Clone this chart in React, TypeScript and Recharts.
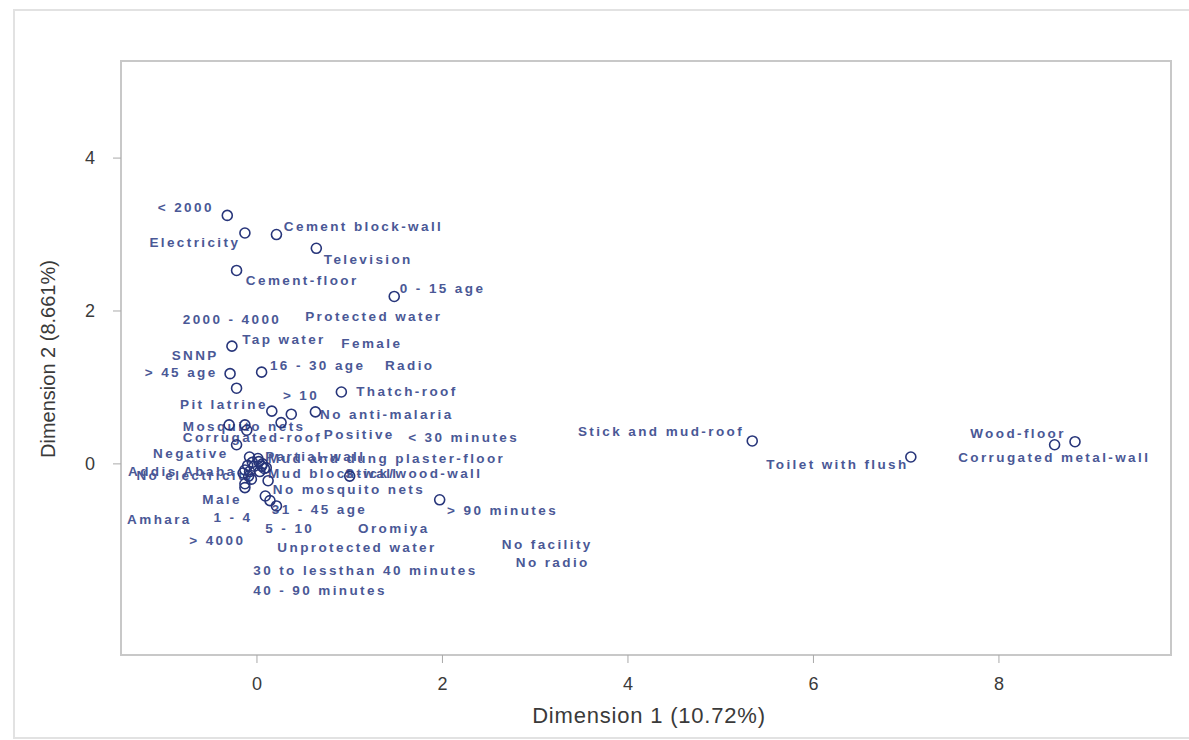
import { ReferenceArea, Scatter, ScatterChart, XAxis, YAxis } from 'recharts';

// category names (one point + one label each)
const categories = [
  '< 2000', 'Electricity', 'Cement block-wall', 'Television', 'Cement-floor', '0 - 15 age',
  '2000 - 4000', 'Protected water', 'Tap water', 'Female', 'SNNP', '> 45 age', '16 - 30 age',
  'Radio', '> 10', 'Thatch-roof', 'Pit latrine', 'No anti-malaria', 'Mosquito nets',
  'Corrugated-roof', 'Positive', '< 30 minutes', 'Stick and mud-roof', 'Wood-floor',
  'Corrugated metal-wall', 'Toilet with flush', 'Negative', 'Partial-wall',
  'Mud and dung plaster-floor', 'Mud block-wall', 'Stick/wood-wall', 'Addis Ababa',
  'No electricity', 'No mosquito nets', '> 90 minutes', 'Male', '31 - 45 age', 'Amhara',
  '1 - 4', '5 - 10', 'Oromiya', '> 4000', 'Unprotected water', 'No facility', 'No radio',
  '30 to lessthan 40 minutes', '40 - 90 minutes',
];

// category coordinates
const dim1 = [
  -0.32, -0.13, 0.21, 0.64, -0.22, 1.48,
  -0.22, 0.37, -0.27, 0.16, -0.3, -0.29, 0.05,
  0.26, -0.13, 0.91, -0.11, 0.63, -0.22,
  -0.08, 0.01, 0.05, 5.34, 8.6,
  8.82, 7.05, -0.03, -0.13,
  -0.09, 0.12, 1.0, -0.13,
  -0.13, 0.09, 1.97, 0.14, 0.21, -0.1,
  -0.05, 0.03, 0.02, -0.15, 0.08, 0.06, 0.1,
  -0.06, -0.08,
];
const dim2 = [
  3.25, 3.02, 3.0, 2.82, 2.53, 2.19,
  0.99, 0.65, 1.54, 0.69, 0.51, 1.18, 1.2,
  0.54, 0.51, 0.94, 0.44, 0.68, 0.25,
  0.09, 0.07, -0.03, 0.3, 0.25,
  0.29, 0.09, -0.03, -0.08,
  -0.16, -0.22, -0.16, -0.26,
  -0.31, -0.42, -0.47, -0.48, -0.55, -0.02,
  0.02, -0.1, 0.03, -0.12, -0.06, 0.0, -0.05,
  -0.2, -0.1,
];

// where each label text starts, in axis units
const labelDim1 = [
  -1.07, -1.16, 0.29, 0.72, -0.12, 1.54,
  -0.8, 0.52, -0.16, 0.91, -0.92, -1.21, 0.14,
  1.38, 0.28, 1.07, -0.83, 0.68, -0.8,
  -0.8, 0.72, 1.63, 3.46, 7.69,
  7.56, 5.49, -1.12, 0.09,
  0.12, 0.12, 0.95, -1.39,
  -1.3, 0.17, 2.05, -0.59, 0.16, -1.4,
  -0.47, 0.09, 1.09, -0.73, 0.22, 2.64, 2.79,
  -0.04, -0.04,
];
const labelDim2 = [
  3.36, 2.9, 3.11, 2.68, 2.4, 2.3,
  1.89, 1.93, 1.63, 1.58, 1.42, 1.19, 1.29,
  1.29, 0.9, 0.95, 0.78, 0.65, 0.49,
  0.34, 0.38, 0.35, 0.42, 0.4,
  0.09, -0.01, 0.14, 0.1,
  0.07, -0.13, -0.13, -0.1,
  -0.15, -0.34, -0.61, -0.47, -0.6, -0.73,
  -0.7, -0.84, -0.84, -1.0, -1.1, -1.06, -1.29,
  -1.4, -1.66,
];

const xTicks = [0, 2, 4, 6, 8];
const yTicks = [0, 2, 4];
const X_MIN = -1.466;
const X_MAX = 9.855;
const Y_MIN = -2.5;
const Y_MAX = 5.27;

const points = categories.map((name, i) => ({ name, x: dim1[i], y: dim2[i] }));
const labels = categories.map((name, i) => ({ name, x: labelDim1[i], y: labelDim2[i] }));

const FONT = '"Liberation Sans", Arial, sans-serif';

const Ring = (props: any) => (
  <circle cx={props.cx} cy={props.cy} r={5} fill="none" stroke="#27357a" strokeWidth={1.6} />
);

const LabelText = (props: any) => (
  <text
    x={props.cx}
    y={props.cy}
    dominantBaseline="central"
    fontFamily={FONT}
    fontSize={13.5}
    fontWeight="bold"
    letterSpacing={2.4}
    fill="#4a5896"
  >
    {props.payload.name}
  </text>
);

export default function App() {
  return (
    <div style={{ position: 'absolute', left: 0, top: 0, width: 1189, height: 740, background: '#fff' }}>
      <div
        style={{
          position: 'absolute',
          left: 13,
          top: 9,
          width: 1180,
          height: 726,
          border: '2px solid #e2e2e2',
        }}
      />
      <div style={{ position: 'absolute', left: 0, top: 0 }}>
        <ScatterChart width={1189} height={740} margin={{ top: 61, right: 18, bottom: 0, left: 61 }}>
          <XAxis
            type="number"
            dataKey="x"
            domain={[X_MIN, X_MAX]}
            ticks={xTicks}
            allowDataOverflow
            axisLine={false}
            tickSize={8}
            tickMargin={14}
            tickLine={{ stroke: '#aaa' }}
            tick={{ fontSize: 18, fill: '#3a3a3a', fontFamily: FONT }}
            height={85}
            label={() => (
              <text
                x={649}
                y={723}
                textAnchor="middle"
                fontFamily={FONT}
                fontSize={22}
                letterSpacing={0.8}
                fill="#3a3a3a"
              >
                Dimension 1 (10.72%)
              </text>
            )}
          />
          <YAxis
            type="number"
            dataKey="y"
            domain={[Y_MIN, Y_MAX]}
            ticks={yTicks}
            allowDataOverflow
            axisLine={false}
            tickSize={8}
            tickMargin={18}
            tickLine={{ stroke: '#aaa' }}
            tick={{ fontSize: 18, fill: '#3a3a3a', fontFamily: FONT }}
            width={60}
            label={() => (
              <text
                x={48}
                y={359}
                transform="rotate(-90, 48, 359)"
                textAnchor="middle"
                dominantBaseline="central"
                fontFamily={FONT}
                fontSize={20}
                fill="#3a3a3a"
              >
                Dimension 2 (8.661%)
              </text>
            )}
          />
          <ReferenceArea
            x1={X_MIN}
            x2={X_MAX}
            y1={Y_MIN}
            y2={Y_MAX}
            fill="none"
            stroke="#c8c8c8"
            strokeWidth={2}
          />
          <Scatter data={labels} shape={LabelText} isAnimationActive={false} />
          <Scatter data={points} shape={Ring} isAnimationActive={false} />
        </ScatterChart>
      </div>
    </div>
  );
}
